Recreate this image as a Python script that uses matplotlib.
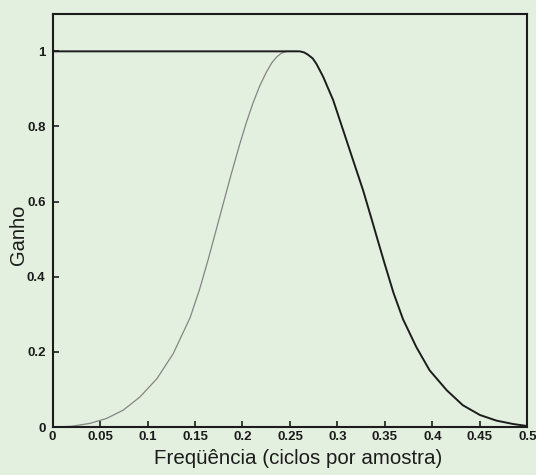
import numpy as np
import matplotlib.pyplot as plt

plt.rcParams['font.family'] = ['Liberation Sans', 'DejaVu Sans']

# Gain of the low-pass filter (black) and the rising response (gray)
freq_low = [0.0, 0.05, 0.10, 0.15, 0.20, 0.25, 0.2605, 0.265, 0.269, 0.274, 0.278,
            0.285, 0.2955, 0.306, 0.3166, 0.327, 0.336, 0.343, 0.350, 0.359, 0.369,
            0.383, 0.397, 0.415, 0.432, 0.45, 0.4675, 0.485, 0.499]
gain_low = [1.0, 1.0, 1.0, 1.0, 1.0, 1.0, 1.0, 0.997, 0.991, 0.981, 0.966,
            0.932, 0.870, 0.790, 0.709, 0.630, 0.553, 0.492, 0.432, 0.357, 0.287,
            0.213, 0.151, 0.098, 0.058, 0.032, 0.017, 0.008, 0.003]

freq_rise = [0.0, 0.02, 0.0395, 0.057, 0.0745, 0.092, 0.110, 0.127, 0.145, 0.155,
             0.164, 0.172, 0.180, 0.188, 0.197, 0.204, 0.211, 0.218, 0.225, 0.231,
             0.236, 0.241, 0.2465, 0.257]
gain_rise = [0.0, 0.002, 0.0098, 0.023, 0.045, 0.080, 0.129, 0.195, 0.292, 0.368,
             0.447, 0.522, 0.597, 0.672, 0.752, 0.810, 0.862, 0.907, 0.944, 0.970,
             0.985, 0.995, 1.0, 1.0]

xticks = [0, 0.05, 0.1, 0.15, 0.2, 0.25, 0.3, 0.35, 0.4, 0.45, 0.5]
xtick_labels = ['0', '0.05', '0.1', '0.15', '0.2', '0.25', '0.3', '0.35', '0.4', '0.45', '0.5']
yticks = [0, 0.2, 0.4, 0.6, 0.8, 1]
ytick_labels = ['0', '0.2', '0.4', '0.6', '0.8', '1']

bg = '#e3efdf'
ink = '#1c1c1c'
fig = plt.figure(figsize=(5.36, 4.75), dpi=100, facecolor=bg)
ax = fig.add_axes([0.098, 0.101, 0.886, 0.870], facecolor=bg)

ax.plot(freq_rise, gain_rise, color='#858585', lw=0.9)
ax.plot(freq_low, gain_low, color=ink, lw=1.4)

ax.set_xlim(0, 0.5)
ax.set_ylim(0, 1.1)
ax.set_xticks(xticks)
ax.set_xticklabels(xtick_labels, fontweight='bold')
ax.set_yticks(yticks)
ax.set_yticklabels(ytick_labels, fontweight='bold')
ax.tick_params(direction='in', length=4, width=1.2, labelsize=9.5, color=ink,
               labelcolor=ink)
ax.tick_params(axis='x', pad=3)
ax.tick_params(axis='y', pad=5)
for s in ax.spines.values():
    s.set_linewidth(1.5)
    s.set_color(ink)

ax.set_xlabel('Freqüência (ciclos por amostra)', fontsize=14.8, color=ink)
ax.xaxis.set_label_coords(0.517, -0.053)
ax.set_ylabel('Ganho', fontsize=14.5, color=ink)
ax.yaxis.set_label_coords(-0.052, 0.465)

fig.savefig('out.png', dpi=100, facecolor=bg)
